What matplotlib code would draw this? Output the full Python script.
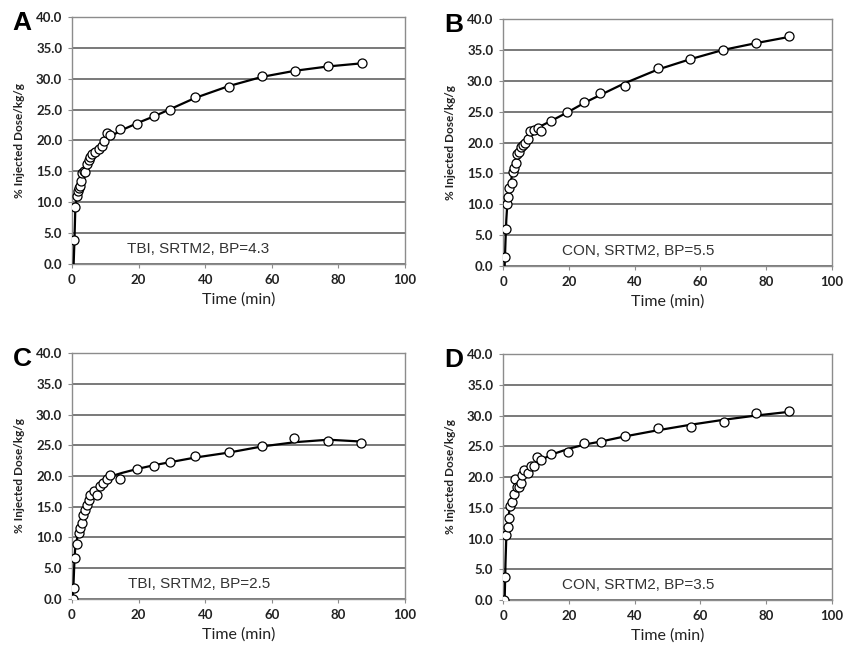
import numpy as np
import matplotlib
matplotlib.use("Agg")
import matplotlib.pyplot as plt

# measured points (time in min, % injected dose/kg/g)
t_a = [0.75, 1.0, 1.5, 1.75, 2.0, 2.5, 2.75, 3.0, 3.5, 4.0, 4.5, 5.0, 5.5, 6.0, 7.0, 8.0, 9.0, 9.6,
       10.5, 11.5, 14.5, 19.5, 24.5, 29.5, 37, 47, 57, 67, 77, 87]
y_a = [3.9, 9.2, 11.0, 11.8, 12.3, 12.7, 13.4, 14.7, 15.0, 14.9, 16.2, 16.8, 17.3, 17.8, 18.2, 18.6,
       19.1, 19.9, 21.2, 20.9, 21.8, 22.6, 23.9, 25.0, 27.0, 28.7, 30.5, 31.2, 32.0, 32.6]

t_b = [0.6, 0.9, 1.3, 1.6, 1.8, 2.6, 3.0, 3.4, 3.8, 4.2, 4.8, 5.5, 6.2, 6.8, 7.5, 8.3, 9.5, 10.6,
       11.6, 14.6, 19.6, 24.6, 29.6, 37, 47, 57, 67, 77, 87]
y_b = [1.5, 6.0, 10.1, 11.2, 12.6, 13.4, 15.3, 15.8, 16.6, 18.2, 18.5, 19.3, 19.6, 19.9, 20.5, 21.9,
       22.0, 22.4, 21.9, 23.5, 24.9, 26.5, 28.0, 29.1, 32.0, 33.5, 35.0, 36.1, 37.2]

t_c = [0.2, 0.6, 0.9, 1.4, 2.0, 2.4, 3.0, 3.4, 3.9, 4.4, 5.0, 5.4, 6.6, 7.6, 8.4, 9.4, 10.4, 11.4,
       14.4, 19.5, 24.5, 29.5, 37, 47, 57, 66.7, 76.8, 86.7]
y_c = [0.0, 1.85, 6.7, 9.0, 10.7, 11.5, 12.3, 13.6, 14.5, 15.3, 16.1, 16.9, 17.6, 16.9, 18.3, 18.8,
       19.5, 20.1, 19.5, 21.1, 21.6, 22.3, 23.2, 23.9, 24.8, 26.1, 25.7, 25.3]

t_d = [0.2, 0.7, 1.0, 1.4, 1.7, 2.0, 2.8, 3.2, 3.7, 4.2, 4.9, 5.5, 5.8, 6.4, 7.7, 8.4, 9.5, 10.4,
       11.7, 14.7, 19.8, 24.7, 29.7, 37.1, 47.1, 57.2, 67.1, 76.9, 86.9]
y_d = [0.0, 3.8, 10.6, 11.8, 13.4, 15.3, 15.9, 17.3, 19.6, 18.4, 18.3, 19.1, 20.4, 21.1, 20.6, 21.8,
       21.8, 23.2, 22.8, 23.7, 24.0, 25.6, 25.7, 26.7, 28.0, 28.2, 28.9, 30.4, 30.7]

# SRTM2 fitted curves
ft_a = [0.5, 0.75, 1.0, 1.5, 2, 3, 4, 5, 6, 8, 10, 12, 15, 20, 25, 30, 37, 47, 57, 67, 77, 87]
fy_a = [0.0, 4.0, 9.0, 11.0, 12.5, 14.0, 15.5, 16.8, 17.6, 18.8, 20.0, 20.8, 21.7, 22.9, 24.0, 25.2,
        26.9, 28.8, 30.3, 31.3, 32.0, 32.5]
ft_b = [0.5, 0.75, 1.0, 1.3, 2, 3, 4, 5, 6, 8, 10, 12, 15, 20, 25, 30, 37, 47, 57, 67, 77, 87]
fy_b = [0.0, 4.0, 7.5, 10.0, 12.8, 15.3, 17.2, 18.6, 19.6, 21.1, 22.2, 22.8, 23.6, 25.0, 26.5, 27.8,
        29.6, 31.8, 33.5, 35.0, 36.1, 37.1]
ft_c = [0.25, 0.5, 0.75, 1, 2, 3, 4, 5, 6, 8, 10, 12, 15, 20, 25, 30, 37, 47, 57, 67, 77, 87]
fy_c = [0.0, 3.0, 6.5, 8.5, 11.0, 13.0, 14.6, 15.8, 16.8, 18.2, 19.3, 20.0, 20.5, 21.2, 21.8, 22.3,
        23.0, 23.8, 24.8, 25.5, 25.9, 25.6]
ft_d = [0.5, 0.75, 1, 1.5, 2, 3, 4, 5, 6, 8, 10, 12, 15, 20, 25, 30, 37, 47, 57, 67, 77, 87]
fy_d = [0.0, 6.0, 10.3, 13.0, 14.8, 16.8, 18.2, 19.3, 20.2, 21.4, 22.3, 22.9, 23.7, 24.6, 25.3, 25.8,
        26.6, 27.6, 28.5, 29.3, 30.0, 30.6]

letters = ["A", "B", "C", "D"]
notes = ["TBI, SRTM2, BP=4.3", "CON, SRTM2, BP=5.5", "TBI, SRTM2, BP=2.5", "CON, SRTM2, BP=3.5"]
note_x = [16.5, 18, 16.8, 18]

panels = [(t_a, y_a, ft_a, fy_a), (t_b, y_b, ft_b, fy_b),
          (t_c, y_c, ft_c, fy_c), (t_d, y_d, ft_d, fy_d)]

# axes rectangles in figure fractions (left, bottom, width, height)
rects = [(0.0852, 0.5920, 0.3941, 0.3817),
         (0.5953, 0.5889, 0.3890, 0.3817),
         (0.0852, 0.0742, 0.3941, 0.3802),
         (0.5953, 0.0726, 0.3890, 0.3802)]

fig = plt.figure(figsize=(8.45, 6.47), dpi=100)

for i, (t, y, ft, fy) in enumerate(panels):
    ax = fig.add_axes(rects[i])
    ax.set_xlim(0, 100)
    ax.set_ylim(0, 40)
    ax.set_xticks(np.arange(0, 101, 20))
    ax.set_yticks(np.arange(0, 41, 5))
    ax.set_yticklabels([f"{v:.1f}" for v in np.arange(0, 41, 5)])
    ax.yaxis.grid(True, color="#555555", linewidth=1.1)
    ax.set_axisbelow(True)
    for s in ax.spines.values():
        s.set_color("#8c8c8c")
        s.set_linewidth(1.0)
    ax.tick_params(axis="both", length=3, width=0.8, color="#8c8c8c", pad=4)
    for lab in ax.get_xticklabels() + ax.get_yticklabels():
        lab.set_fontfamily("Lato")
        lab.set_fontweight("bold")
        lab.set_fontsize(9.5)
        lab.set_color("#222222")

    ax.plot(ft, fy, color="black", linewidth=1.6, zorder=3)
    ax.plot(t, y, linestyle="none", marker="o", markersize=6.5,
            markerfacecolor="white", markeredgecolor="black", markeredgewidth=0.9, zorder=4)

    ax.text(note_x[i], 2.4, notes[i], fontsize=11, family="Liberation Sans",
            color="#333333", va="center", ha="left")
    ax.set_xlabel("Time (min)", fontsize=11.5, family="Lato", color="#222222", labelpad=5)
    ax.set_ylabel("% Injected Dose/kg/g", fontsize=8.5, family="Lato", fontweight="bold",
                  color="#222222", labelpad=8)
    ax.text(-0.178, 0.975, letters[i], transform=ax.transAxes, fontsize=19, fontweight="bold",
            family="Liberation Sans", va="center", ha="left")

fig.savefig("out.png", dpi=100)
